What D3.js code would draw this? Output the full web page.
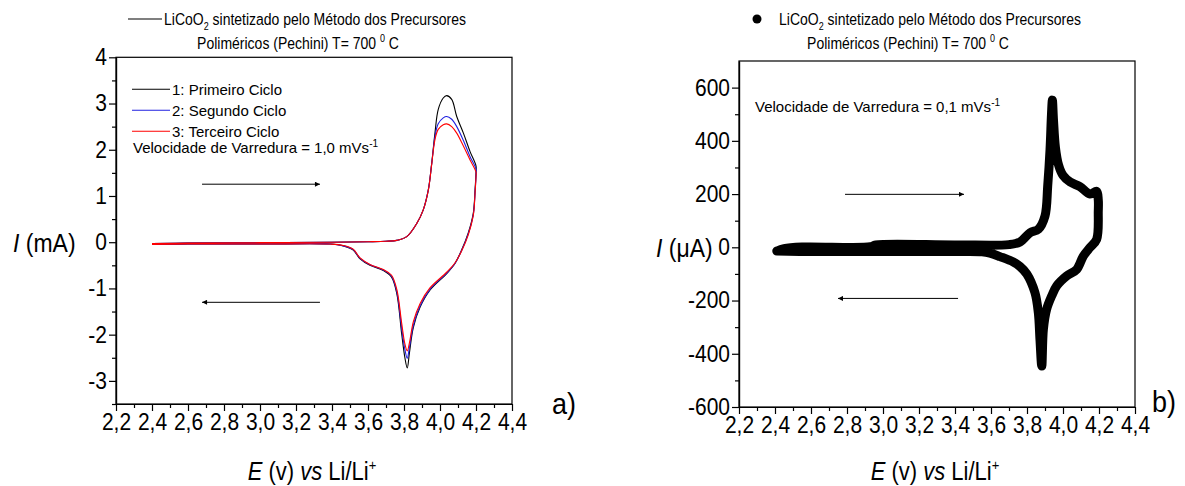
<!DOCTYPE html>
<html>
<head>
<meta charset="utf-8">
<script src="https://cdn.jsdelivr.net/npm/d3@7"></script>
<style>
  body { margin: 0; background: #fff; }
  svg { font-family: "Liberation Sans", Arial, sans-serif; }
  .axis path, .axis line { stroke: #000; stroke-width: 1.2; }
  .axis text { fill: #000; font-size: 21px; }
</style>
</head>
<body>
<div id="chart"></div>
<script>
// ---- data ----
// panel a) : three cycles at 1,0 mV/s, current in mA
var eFwd  = [2.40, 2.60, 3.00, 3.40, 3.60, 3.70, 3.76, 3.815, 3.87, 3.907, 3.935, 3.954, 3.972, 3.99, 4.018, 4.037, 4.065, 4.093, 4.13, 4.167, 4.20];
var c1Fwd = [-0.03, -0.02, -0.01, 0.00, 0.01, 0.02, 0.04, 0.12, 0.40, 0.70, 1.13, 1.71, 2.36, 2.87, 3.12, 3.17, 3.09, 2.72, 2.36, 1.96, 1.65];
var c2Fwd = [-0.03, -0.02, -0.01, 0.00, 0.01, 0.02, 0.04, 0.12, 0.40, 0.70, 1.13, 1.70, 2.28, 2.56, 2.69, 2.72, 2.66, 2.50, 2.20, 1.85, 1.58];
var c3Fwd = [-0.03, -0.02, -0.01, 0.00, 0.01, 0.02, 0.04, 0.12, 0.40, 0.70, 1.12, 1.69, 2.22, 2.44, 2.54, 2.56, 2.50, 2.36, 2.08, 1.78, 1.52];

var eRev  = [4.20, 4.195, 4.185, 4.157, 4.12, 4.083, 4.037, 3.944, 3.889, 3.852, 3.83, 3.818, 3.805, 3.787, 3.76, 3.73, 3.685, 3.611, 3.556, 3.518, 3.463, 3.39, 3.00, 2.60, 2.40];
var c1Rev = [1.50, 1.15, 0.63, 0.20, -0.17, -0.46, -0.68, -1.04, -1.41, -1.84, -2.40, -2.72, -2.50, -1.98, -1.11, -0.75, -0.61, -0.50, -0.36, -0.17, -0.08, -0.04, -0.04, -0.04, -0.05];
var c2Rev = [1.45, 1.10, 0.60, 0.18, -0.18, -0.46, -0.67, -1.02, -1.38, -1.80, -2.28, -2.51, -2.32, -1.86, -1.07, -0.73, -0.60, -0.49, -0.35, -0.16, -0.08, -0.04, -0.04, -0.04, -0.05];
var c3Rev = [1.42, 1.08, 0.58, 0.16, -0.19, -0.45, -0.65, -0.99, -1.33, -1.72, -2.18, -2.35, -2.20, -1.75, -1.02, -0.71, -0.59, -0.48, -0.34, -0.15, -0.07, -0.04, -0.04, -0.04, -0.05];

var cycleNames  = ["1: Primeiro Ciclo", "2: Segundo Ciclo", "3: Terceiro Ciclo"];
var cycleColors = ["#000000", "#2020e0", "#ff0000"];

// panel b) : 0,1 mV/s, current in uA
var eFwdB = [2.41, 2.45, 2.55, 2.93, 2.96, 3.40, 3.70, 3.761, 3.817, 3.863, 3.90, 3.915, 3.928, 3.936, 3.941, 3.947, 3.958, 3.975, 4.00, 4.04, 4.094, 4.15, 4.187, 4.196];
var iFwdB = [-14, -5, 1, 2, 9, 9, 10, 20, 55, 68, 118, 230, 368, 500, 553, 480, 375, 310, 270, 245, 228, 200, 210, 178];
var eRevB = [4.196, 4.187, 4.15, 4.113, 4.076, 4.02, 3.965, 3.937, 3.909, 3.891, 3.882, 3.872, 3.863, 3.844, 3.799, 3.761, 3.724, 3.65, 3.594, 3.55, 3.40, 3.00, 2.60, 2.41];
var iRevB = [136, 30, -1, -33, -83, -108, -145, -183, -233, -308, -446, -346, -246, -170, -100, -72, -55, -35, -22, -17, -16, -16, -16, -14];

var xTicks  = [2.2, 2.4, 2.6, 2.8, 3.0, 3.2, 3.4, 3.6, 3.8, 4.0, 4.2, 4.4];
var yTicksA = [-3, -2, -1, 0, 1, 2, 3, 4];
var yTicksB = [-600, -400, -200, 0, 200, 400, 600];

var W = 1185, H = 486;
var loc = d3.formatLocale({decimal: ",", thousands: ".", grouping: [3], currency: ["", ""], minus: "-"});
var fmtX = loc.format(".1f"), fmtY = loc.format("d");

var svg = d3.select("#chart").append("svg")
    .attr("width", W).attr("height", H);

var defs = svg.append("defs");
defs.append("marker").attr("id", "head")
    .attr("viewBox", "0 0 10 10").attr("refX", 10).attr("refY", 5)
    .attr("markerWidth", 8).attr("markerHeight", 5).attr("markerUnits", "userSpaceOnUse")
    .attr("orient", "auto")
  .append("path").attr("d", "M0,0L10,5L0,10Z").attr("fill", "#000");

function zip(e, i) { return e.map(function(v, k) { return [v, i[k]]; }); }

// text in the original is a little taller than wide
function tallText(parent, x, y, size, sy) {
  return parent.append("text")
    .attr("transform", "translate(" + x + "," + y + ") scale(1," + sy + ")")
    .attr("font-size", size);
}

function panel(left, top, w, h, yDomain, yTicks, yMinor) {
  var g = svg.append("g").attr("transform", "translate(" + left + "," + top + ")");
  var x = d3.scaleLinear().domain([2.2, 4.4]).range([0, w]);
  var y = d3.scaleLinear().domain(yDomain).range([h, 0]);

  g.append("rect").attr("width", w).attr("height", h)
    .attr("fill", "none").attr("stroke", "#000").attr("stroke-width", 1.2);

  var minorX = d3.range(2.3, 4.4, 0.2);
  g.append("g").attr("class", "axis").attr("transform", "translate(0," + h + ")")
    .call(d3.axisBottom(x).tickValues(minorX).tickSize(4).tickSizeOuter(0).tickFormat(""));
  g.append("g").attr("class", "axis").attr("transform", "translate(0," + h + ")")
    .call(d3.axisBottom(x).tickValues(xTicks).tickSize(7).tickSizeOuter(0).tickPadding(2).tickFormat(fmtX))
    .selectAll("text").attr("transform", "scale(1,1.1)");

  g.append("g").attr("class", "axis")
    .call(d3.axisLeft(y).tickValues(yMinor).tickSize(4).tickSizeOuter(0).tickFormat(""));
  g.append("g").attr("class", "axis")
    .call(d3.axisLeft(y).tickValues(yTicks).tickSize(7).tickSizeOuter(0).tickPadding(2).tickFormat(fmtY))
    .selectAll("text").attr("transform", "scale(1,1.1)");

  return {g: g, x: x, y: y};
}

function arrow(p, e0, e1, i) {
  p.g.append("line")
    .attr("x1", p.x(e0)).attr("x2", p.x(e1))
    .attr("y1", p.y(i)).attr("y2", p.y(i))
    .attr("stroke", "#000").attr("stroke-width", 1)
    .attr("marker-end", "url(#head)");
}

// ---------- panel a ----------
var pa = panel(116, 57.3, 396, 346.7, [-3.5, 4], yTicksA, d3.range(-3.5, 4, 1));
var lineA = d3.line().x(function(d) { return pa.x(d[0]); }).y(function(d) { return pa.y(d[1]); })
    .curve(d3.curveCatmullRom.alpha(0.5));

var cyclesFwd = [c1Fwd, c2Fwd, c3Fwd], cyclesRev = [c1Rev, c2Rev, c3Rev];
[0, 1, 2].forEach(function(k) {
  var pts = zip(eFwd, cyclesFwd[k]).concat(zip(eRev, cyclesRev[k]));
  pa.g.append("path").datum(pts).attr("d", lineA)
    .attr("fill", "none").attr("stroke", cycleColors[k]).attr("stroke-width", 1.1);
});

var leg = pa.g.selectAll(".leg").data(cycleNames).enter().append("g")
    .attr("transform", function(d, k) { return "translate(16," + (32 + k * 21) + ")"; });
leg.append("line").attr("x1", 0).attr("x2", 38)
    .attr("stroke", function(d, k) { return cycleColors[k]; }).attr("stroke-width", 1.1);
leg.append("text").attr("x", 40).attr("y", 5.5).attr("font-size", 15).text(function(d) { return d; });

var va = pa.g.append("text").attr("x", 17).attr("y", 95.5).attr("font-size", 15);
va.append("tspan").text("Velocidade de Varredura = 1,0 mVs");
va.append("tspan").attr("dy", -6).attr("font-size", 10).text("-1");

arrow(pa, 2.678, 3.333, 1.255);
arrow(pa, 3.333, 2.678, -1.30);

// ---------- panel b ----------
var pb = panel(739, 61, 396, 346, [-600, 700], yTicksB, d3.range(-500, 700, 200));
var lineB = d3.line().x(function(d) { return pb.x(d[0]); }).y(function(d) { return pb.y(d[1]); })
    .curve(d3.curveCatmullRom.alpha(0.5));
pb.g.append("path").datum(zip(eFwdB, iFwdB).concat(zip(eRevB, iRevB))).attr("d", lineB)
  .attr("fill", "none").attr("stroke", "#000").attr("stroke-width", 9)
  .attr("stroke-linejoin", "round").attr("stroke-linecap", "round");

var vb = pb.g.append("text").attr("x", 16).attr("y", 51).attr("font-size", 15);
vb.append("tspan").text("Velocidade de Varredura = 0,1 mVs");
vb.append("tspan").attr("dy", -6).attr("font-size", 10).text("-1");

arrow(pb, 2.789, 3.45, 199);
arrow(pb, 3.417, 2.75, -192);

// ---------- titles, axis labels ----------
function header(xLine, xText, xCenter, dot) {
  if (dot) {
    svg.append("circle").attr("cx", xLine + 17).attr("cy", 19).attr("r", 4.5).attr("fill", "#000");
  } else {
    svg.append("line").attr("x1", xLine).attr("x2", xLine + 34).attr("y1", 19).attr("y2", 19)
      .attr("stroke", "#000").attr("stroke-width", 1.1);
  }
  var t1 = tallText(svg, xText, 25, 14, 1.18);
  t1.append("tspan").text("LiCoO");
  t1.append("tspan").attr("dy", 4).attr("font-size", 9).text("2");
  t1.append("tspan").attr("dy", -4).text(" sintetizado pelo Método dos Precursores");
  var t2 = tallText(svg, xCenter, 49, 14, 1.18).attr("text-anchor", "middle");
  t2.append("tspan").text("Poliméricos (Pechini) T= 700 ");
  t2.append("tspan").attr("dy", -6).attr("font-size", 9).text("0");
  t2.append("tspan").attr("dy", 6).text(" C");
}
header(128, 164, 298, false);
header(740, 779, 908, true);

function xLabel(cx) {
  var t = tallText(svg, cx, 480, 22, 1.15).attr("text-anchor", "middle");
  t.append("tspan").attr("font-style", "italic").text("E");
  t.append("tspan").text(" (v) ");
  t.append("tspan").attr("font-style", "italic").text("vs");
  t.append("tspan").text(" Li/Li");
  t.append("tspan").attr("dy", -9).attr("font-size", 13).text("+");
}
xLabel(312);
xLabel(935);

function yLabel(x0, y0, unit) {
  var t = tallText(svg, x0, y0, 23, 1.12);
  t.append("tspan").attr("font-style", "italic").text("I");
  t.append("tspan").text(" (" + unit + ")");
}
yLabel(13, 252, "mA");
yLabel(656, 257, "\u03bcA");

tallText(svg, 552, 414, 27, 1.1).text("a)");
tallText(svg, 1152, 412, 27, 1.1).text("b)");
</script>
</body>
</html>
